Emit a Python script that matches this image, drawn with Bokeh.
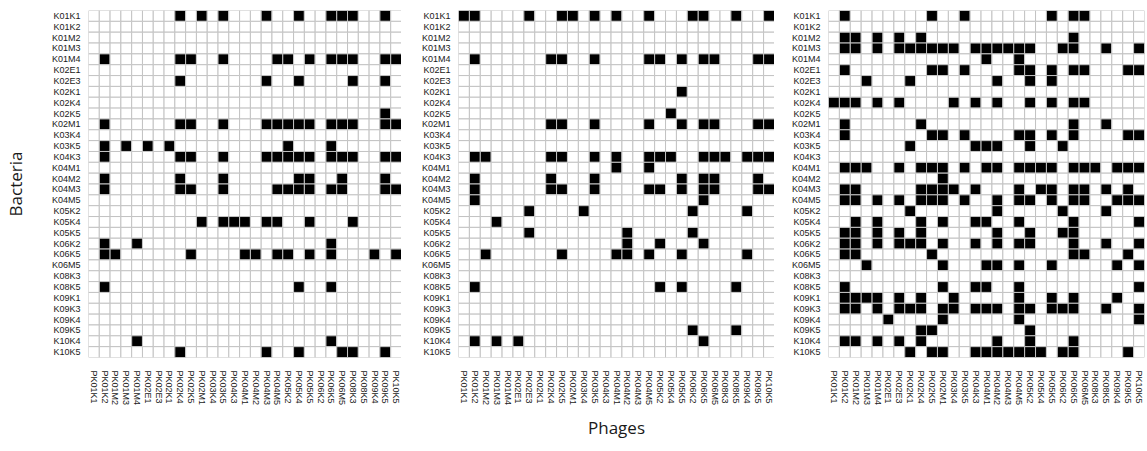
from bokeh.plotting import figure
from bokeh.layouts import row
from bokeh.models import ColumnDataSource, FactorRange, Title
from bokeh.embed import file_html
from bokeh.resources import INLINE

# Host strains (rows, top to bottom)
bacteria = [
    "K01K1", "K01K2", "K01M2", "K01M3", "K01M4", "K02E1", "K02E3", "K02K1",
    "K02K4", "K02K5", "K02M1", "K03K4", "K03K5", "K04K3", "K04M1", "K04M2",
    "K04M3", "K04M5", "K05K2", "K05K4", "K05K5", "K06K2", "K06K5", "K06M5",
    "K08K3", "K08K5", "K09K1", "K09K3", "K09K4", "K09K5", "K10K4", "K10K5",
]

# Phage isolates (columns, left to right)
phages = [
    "PK01K1", "PK01K2", "PK01M2", "PK01M3", "PK01M4", "PK02E1", "PK02E3",
    "PK02K1", "PK02K4", "PK02K5", "PK02M1", "PK03K4", "PK03K5", "PK04K3",
    "PK04M1", "PK04M2", "PK04M3", "PK04M5", "PK05K2", "PK05K4", "PK05K5",
    "PK06K2", "PK06K5", "PK06M5", "PK08K3", "PK08K5", "PK09K4", "PK09K5",
    "PK10K5",
]

# Positive interactions: for each host row, the indices of phages that lyse it
panel_a_hits = [
    [8, 10, 12, 16, 19, 22, 23, 24, 27],
    [], [], [],
    [1, 8, 9, 12, 17, 18, 20, 22, 23, 24, 27, 28],
    [],
    [8, 16, 19, 24, 27],
    [], [],
    [27],
    [1, 8, 9, 12, 16, 17, 18, 19, 20, 22, 23, 24, 27, 28],
    [],
    [1, 3, 5, 7, 18, 22],
    [1, 8, 9, 12, 16, 17, 18, 19, 20, 22, 23, 24, 27, 28],
    [],
    [1, 8, 12, 19, 20, 23, 27],
    [1, 8, 9, 12, 17, 18, 19, 20, 22, 23, 27, 28],
    [], [],
    [10, 12, 13, 14, 16, 17, 20, 24],
    [],
    [1, 4, 22],
    [1, 2, 9, 14, 15, 17, 18, 20, 22, 26, 28],
    [], [],
    [1, 19, 22],
    [], [], [], [],
    [4, 22],
    [8, 16, 19, 23, 24, 27],
]

panel_b_hits = [
    [0, 1, 6, 9, 10, 12, 14, 17, 21, 22, 25, 28],
    [], [], [],
    [1, 8, 9, 12, 17, 18, 20, 22, 23, 27, 28],
    [], [],
    [20],
    [],
    [19],
    [8, 9, 12, 17, 20, 22, 23, 27, 28],
    [], [],
    [1, 2, 8, 9, 12, 14, 17, 18, 19, 22, 23, 24, 26, 27, 28],
    [14, 17],
    [1, 8, 12, 20, 22, 23, 27],
    [1, 8, 9, 12, 17, 18, 20, 22, 23, 27, 28],
    [1, 22],
    [6, 11, 21, 26],
    [3],
    [6, 15, 21],
    [15, 18, 22],
    [2, 9, 14, 15, 17, 20, 26],
    [], [],
    [1, 18, 20, 25],
    [], [], [],
    [21, 25],
    [1, 3, 5, 22],
    [],
]

panel_c_hits = [
    [1, 9, 12, 20, 22, 23],
    [],
    [1, 2, 4, 6, 8, 22],
    [1, 2, 4, 6, 7, 8, 9, 10, 11, 13, 14, 15, 16, 17, 18, 21, 22, 25, 28],
    [14, 17],
    [1, 9, 10, 12, 17, 18, 20, 22, 23, 27, 28],
    [3, 7, 15, 18, 20],
    [],
    [0, 1, 2, 4, 6, 11, 13, 15, 18, 20, 22, 23],
    [],
    [1, 8, 22, 25],
    [1, 9, 10, 12, 17, 18, 20, 22, 27, 28],
    [7, 13, 14, 15, 18, 21],
    [],
    [1, 2, 3, 6, 8, 9, 10, 12, 14, 15, 17, 18, 19, 20, 22, 23, 24, 26, 27, 28],
    [10],
    [1, 2, 8, 9, 10, 11, 13, 17, 19, 20, 22, 23, 25, 27],
    [1, 2, 4, 6, 8, 9, 10, 12, 15, 17, 18, 20, 22, 23, 26, 27, 28],
    [7, 15, 21, 25],
    [2, 4, 8, 10, 13, 14, 17, 22, 28],
    [1, 2, 4, 6, 8, 15, 18, 21, 22],
    [1, 2, 4, 6, 7, 8, 10, 13, 15, 17, 18, 22, 25, 28],
    [1, 2, 9, 22, 23, 27],
    [3, 10, 14, 15, 17, 20, 26, 28],
    [],
    [1, 10, 13, 14, 17, 28],
    [1, 2, 3, 4, 6, 8, 11, 17, 20, 22, 26],
    [1, 2, 4, 6, 7, 8, 10, 11, 13, 14, 15, 17, 18, 20, 21, 22, 25, 28],
    [5, 10, 17, 28],
    [8, 9, 18],
    [1, 2, 4, 6, 8, 15, 18, 22],
    [7, 9, 10, 13, 14, 15, 16, 17, 18, 19, 21, 22, 27],
]

FONT = "Liberation Sans"
TITLE_FONT = "Open Sans"
GRID_GRAY = "#c3c3c3"
TEXT = "#1a1a1a"


def matrix_source(hits):
    xs, ys, colors = [], [], []
    for host, row_hits in zip(bacteria, hits):
        for j, phage in enumerate(phages):
            xs.append(phage)
            ys.append(host)
            colors.append("#000000" if j in row_hits else "#ffffff")
    return ColumnDataSource(dict(x=xs, y=ys, color=colors))


def make_panel(hits, border_left, border_right, width):
    p = figure(
        x_range=FactorRange(*phages),
        y_range=FactorRange(*reversed(bacteria)),
        width=width, height=451,
        min_border_left=border_left, min_border_right=border_right,
        min_border_top=10, min_border_bottom=94,
        output_backend="svg", toolbar_location=None,
    )
    p.rect(x="x", y="y", width=1, height=1, source=matrix_source(hits),
           fill_color="color", line_color=GRID_GRAY, line_width=1)
    p.grid.visible = False
    p.outline_line_color = None
    p.background_fill_color = "white"
    p.border_fill_color = "white"

    for ax in (p.xaxis[0], p.yaxis[0]):
        ax.axis_line_color = None
        ax.major_tick_line_color = None
        ax.minor_tick_line_color = None
        ax.major_tick_out = 0
        ax.major_tick_in = 0
        ax.major_label_text_font = FONT
        ax.major_label_text_font_size = "9px"
        ax.major_label_text_color = TEXT
    p.xaxis.major_label_orientation = "vertical"
    p.xaxis.major_label_standoff = 13
    p.yaxis.major_label_standoff = 8
    return p


p1 = make_panel(panel_a_hits, 85, 0, 401)
p2 = make_panel(panel_b_hits, 57, 0, 373)
p3 = make_panel(panel_c_hits, 54, 3, 373)

p1.yaxis.axis_label = "Bacteria"
p1.yaxis.axis_label_text_font = TITLE_FONT
p1.yaxis.axis_label_text_font_size = "17px"
p1.yaxis.axis_label_text_font_style = "normal"
p1.yaxis.axis_label_text_color = TEXT
p1.yaxis.axis_label_standoff = 22

p2.add_layout(Title(
    text="Phages", align="center", offset=-13, standoff=10,
    text_font=TITLE_FONT, text_font_size="17px", text_font_style="normal",
    text_color=TEXT,
), "below")

layout = row(p1, p2, p3, spacing=0)

open("out.html", "w").write(file_html(layout, INLINE))
